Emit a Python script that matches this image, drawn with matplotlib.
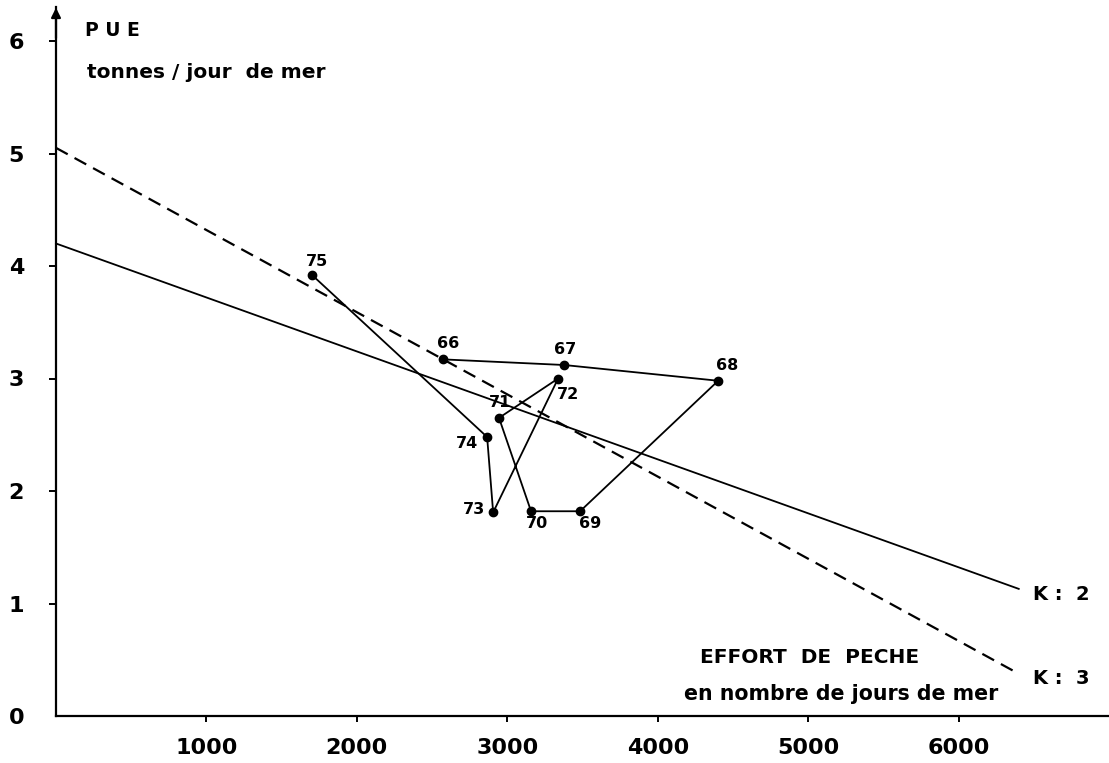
import matplotlib
matplotlib.use("Agg")
import matplotlib.pyplot as plt

# ---- data ----
years = ["66", "67", "68", "69", "70", "71", "72", "73", "74", "75"]
effort = [2573, 3378, 4402, 3484, 3158, 2945, 3338, 2906, 2866, 1702]
pue = [3.17, 3.12, 2.98, 1.82, 1.82, 2.65, 3.00, 1.81, 2.48, 3.92]

k2_x = [0, 6400]
k2_y = [4.20, 1.13]
k3_x = [0, 6380]
k3_y = [5.05, 0.39]

xticks = [1000, 2000, 3000, 4000, 5000, 6000]
yticks = [0, 1, 2, 3, 4, 5, 6]

# label offsets (pixels)
label_off = {"75": (5, 14), "66": (5, 16), "67": (1, 15), "68": (9, 15),
             "72": (10, -16), "71": (1, 15), "74": (-20, -6), "73": (-19, 3),
             "70": (6, -12), "69": (10, -12)}

plt.rcParams['font.family'] = ['DejaVu Sans']
fig = plt.figure(figsize=(11.09, 7.63), dpi=100)
W, H = 1109, 763
left, bottom = 56, 763 - 716
ax_w, ax_h = 1053, 6.3 * 112.5
ax = fig.add_axes([left / W, bottom / H, ax_w / W, ax_h / H])
ax.set_xlim(0, 7000)
ax.set_ylim(0, 6.3)

for s in ["top", "right"]:
    ax.spines[s].set_visible(False)
for s in ["left", "bottom"]:
    ax.spines[s].set_linewidth(1.6)
    ax.spines[s].set_color("black")

ax.set_xticks(xticks)
ax.set_xticklabels([str(v) for v in xticks], fontsize=16, fontweight="bold")
ax.set_yticks(yticks)
ax.set_yticklabels([str(v) for v in yticks], fontsize=16, fontweight="bold")
ax.tick_params(axis="x", direction="out", length=4, width=1.4, pad=12)
ax.tick_params(axis="y", direction="out", length=5, width=1.4, pad=18)
ax.yaxis.get_major_ticks()[0].tick1line.set_visible(False)

# arrow on top of y axis
ax.annotate("", xy=(0, 6.32), xytext=(0, 6.0),
            arrowprops=dict(arrowstyle="-|>", color="black", lw=1.6,
                            mutation_scale=14),
            annotation_clip=False)

# regression lines
ax.plot(k2_x, k2_y, color="black", lw=1.3, clip_on=False)
ax.plot(k3_x, k3_y, color="black", lw=1.6, dashes=(6, 3.5), clip_on=False)

# trajectory
ax.plot(effort, pue, color="black", lw=1.3, marker="o", markersize=6,
        markerfacecolor="black", markeredgecolor="black")
for yr, x, y in zip(years, effort, pue):
    ax.annotate(yr, (x, y), xytext=label_off[yr], textcoords="offset pixels",
                ha="center", va="center", fontsize=11.5, fontweight="bold")

# axis texts
ax.text(193, 6.09, "P U E", fontsize=13.5, fontweight="bold", va="center", ha="left")
ax.text(206, 5.72, "tonnes / jour  de mer", fontsize=14.5, fontweight="bold",
        va="center", ha="left")
ax.text(4282, 0.52, "EFFORT  DE  PECHE", fontsize=14.5, fontweight="bold",
        va="center", ha="left")
ax.text(4176, 0.20, "en nombre de jours de mer", fontsize=14.8, fontweight="bold",
        va="center", ha="left")
ax.text(6496, 1.08, "K :  2", fontsize=14, fontweight="bold", va="center", ha="left")
ax.text(6496, 0.33, "K :  3", fontsize=14, fontweight="bold", va="center", ha="left")

fig.savefig("out.png", dpi=100)
